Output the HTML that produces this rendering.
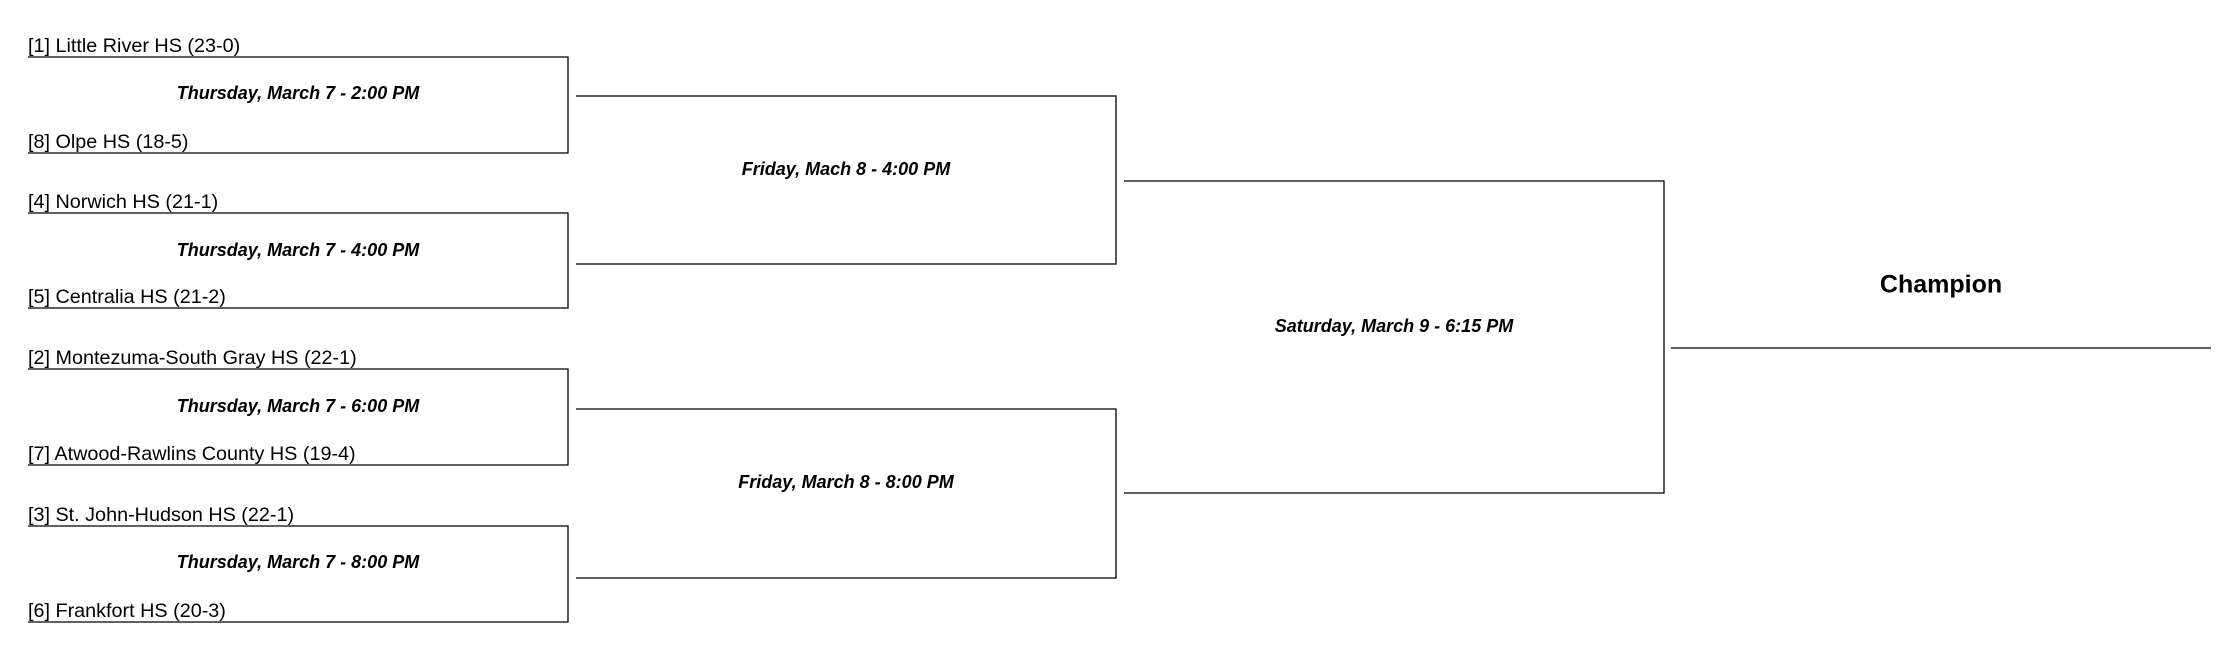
<!DOCTYPE html>
<html><head><meta charset="utf-8"><style>
html,body{margin:0;padding:0;background:#fff;}
body{width:2236px;height:652px;position:relative;overflow:hidden;font-family:"Liberation Sans",Arial,sans-serif;color:#000;}
.t{position:absolute;left:28px;font-size:19.8px;line-height:22px;white-space:nowrap;}
.d{position:absolute;font-size:18px;font-weight:bold;font-style:italic;white-space:nowrap;transform:translate(-50%,-50%);line-height:20px;}
.c{position:absolute;font-size:25px;font-weight:bold;white-space:nowrap;transform:translate(-50%,-50%);}
</style></head><body>
<svg width="2236" height="652" style="position:absolute;left:0;top:0" xmlns="http://www.w3.org/2000/svg">
<g fill="none" stroke="#000" stroke-width="1.3">
<polyline points="28,57 568,57 568,153 28,153"/>
<polyline points="28,213 568,213 568,308 28,308"/>
<polyline points="28,369 568,369 568,465 28,465"/>
<polyline points="28,526 568,526 568,622 28,622"/>
<polyline points="576,96 1116,96 1116,264 576,264"/>
<polyline points="576,409 1116,409 1116,578 576,578"/>
<polyline points="1124,181 1664,181 1664,493 1124,493"/>
<line x1="1671" y1="348" x2="2211" y2="348"/>
</g></svg>
<div class="t" style="top:35px">[1] Little River HS (23-0)</div>
<div class="t" style="top:131px">[8] Olpe HS (18-5)</div>
<div class="t" style="top:191px">[4] Norwich HS (21-1)</div>
<div class="t" style="top:286px">[5] Centralia HS (21-2)</div>
<div class="t" style="top:347px">[2] Montezuma-South Gray HS (22-1)</div>
<div class="t" style="top:443px">[7] Atwood-Rawlins County HS (19-4)</div>
<div class="t" style="top:504px">[3] St. John-Hudson HS (22-1)</div>
<div class="t" style="top:600px">[6] Frankfort HS (20-3)</div>
<div class="d" style="left:298px;top:93px">Thursday, March 7 - 2:00 PM</div>
<div class="d" style="left:298px;top:250px">Thursday, March 7 - 4:00 PM</div>
<div class="d" style="left:298px;top:406px">Thursday, March 7 - 6:00 PM</div>
<div class="d" style="left:298px;top:562px">Thursday, March 7 - 8:00 PM</div>
<div class="d" style="left:846px;top:169px">Friday, Mach 8 - 4:00 PM</div>
<div class="d" style="left:846px;top:482px">Friday, March 8 - 8:00 PM</div>
<div class="d" style="left:1394px;top:326px">Saturday, March 9 - 6:15 PM</div>
<div class="c" style="left:1941px;top:285px">Champion</div>
</body></html>
